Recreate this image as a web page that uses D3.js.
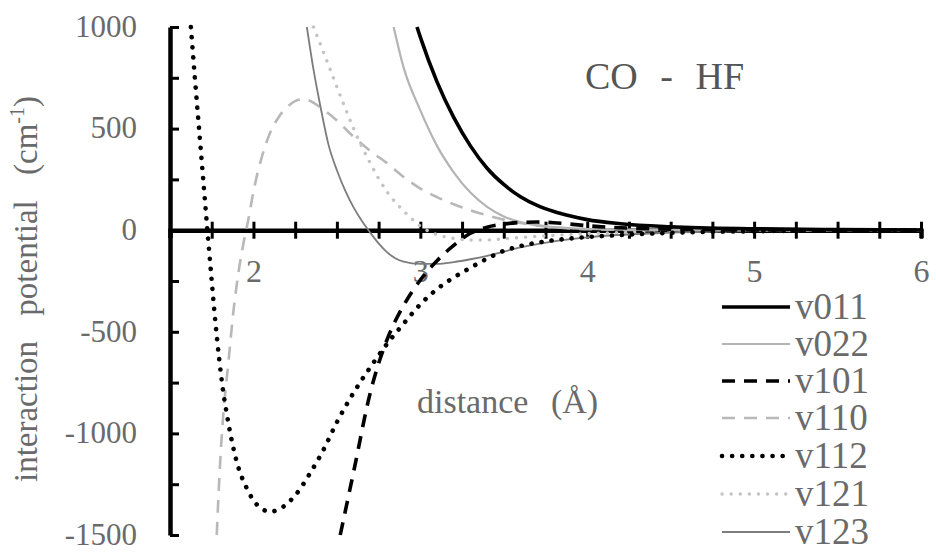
<!DOCTYPE html>
<html>
<head>
<meta charset="utf-8">
<script src="https://cdn.jsdelivr.net/npm/d3@7"></script>
<style>
  html, body { margin: 0; padding: 0; background: #fff; }
  svg { display: block; }
</style>
</head>
<body>
<svg id="chart" width="936" height="552"></svg>
<script>
// ---- data (distance in Å, potential in cm^-1) ----
const seriesNames = ["v011", "v022", "v101", "v110", "v112", "v121", "v123"];

const v011 = [[2.98,1000],[3.0,950],[3.1,730],[3.2,555],[3.3,415],[3.4,305],[3.5,225],[3.6,165],[3.7,122],[3.8,92],[3.9,70],[4.0,52],[4.2,32],[4.5,17],[5.0,7],[5.5,3],[6.0,1]];
const v022 = [[2.84,1000],[2.9,800],[3.0,590],[3.1,415],[3.2,285],[3.3,185],[3.4,115],[3.5,68],[3.6,40],[3.8,15],[4.0,6],[4.5,1],[6.0,0]];
const v101 = [[2.52,-1500],[2.6,-1190],[2.7,-800],[2.8,-540],[2.9,-370],[3.0,-245],[3.1,-150],[3.2,-75],[3.3,-15],[3.4,15],[3.5,30],[3.6,38],[3.7,40],[3.8,37],[3.9,30],[4.0,22],[4.2,12],[4.5,5],[5.0,1],[6.0,0]];
const v110 = [[1.78,-1500],[1.80,-1150],[1.82,-900],[1.85,-650],[1.88,-400],[1.91,-210],[1.94,-65],[1.97,55],[2.0,190],[2.05,360],[2.1,480],[2.15,555],[2.2,605],[2.25,635],[2.3,645],[2.35,632],[2.4,605],[2.5,540],[2.6,460],[2.7,390],[2.8,330],[2.9,262],[3.0,205],[3.1,163],[3.2,128],[3.3,98],[3.4,73],[3.5,52],[3.6,35],[3.8,15],[4.0,5],[4.5,0],[6.0,0]];
const v112 = [[1.625,1000],[1.65,740],[1.675,490],[1.70,240],[1.725,-10],[1.75,-250],[1.78,-520],[1.81,-740],[1.85,-950],[1.9,-1140],[1.96,-1270],[2.02,-1350],[2.1,-1385],[2.18,-1360],[2.26,-1295],[2.34,-1195],[2.42,-1080],[2.5,-945],[2.6,-800],[2.7,-675],[2.8,-560],[2.9,-460],[3.0,-365],[3.1,-290],[3.2,-233],[3.3,-185],[3.4,-140],[3.5,-102],[3.6,-78],[3.75,-55],[3.95,-37],[4.25,-22],[4.5,-13],[5.0,-5],[6.0,0]];
const v121 = [[2.36,1000],[2.42,875],[2.46,790],[2.5,705],[2.55,600],[2.6,500],[2.65,410],[2.7,330],[2.75,255],[2.8,190],[2.85,138],[2.9,95],[2.95,55],[3.0,20],[3.05,-5],[3.1,-22],[3.2,-40],[3.3,-48],[3.4,-48],[3.5,-42],[3.7,-30],[4.0,-17],[4.5,-6],[5.0,-2],[6.0,0]];
const v123 = [[2.32,1000],[2.36,790],[2.40,615],[2.45,420],[2.5,295],[2.55,195],[2.6,112],[2.65,45],[2.7,-12],[2.75,-65],[2.8,-108],[2.85,-138],[2.9,-155],[3.0,-166],[3.1,-166],[3.2,-157],[3.3,-143],[3.4,-126],[3.5,-105],[3.6,-85],[3.8,-55],[4.0,-35],[4.5,-12],[5.0,-4],[6.0,0]];

const xTicks = [1.75,2,2.25,2.5,2.75,3,3.25,3.5,3.75,4,4.25,4.5,4.75,5,5.25,5.5,5.75,6];
const xTickLabels = [2,3,4,5,6];
const yTicks = [-1500,-1250,-1000,-750,-500,-250,0,250,500,750,1000];
const yTickLabels = [-1500,-1000,-500,0,500,1000];

const titleText = "CO - HF";
const xTitle = "distance (Å)";
const yTitle = "interaction potential (cm";
const yTitleSup = "-1";

// ---- styles ----
const FONT = "'Liberation Serif', 'Times New Roman', Times, serif";
const styles = {
  v011: {color: "#000000", width: 3.6, dash: null, cap: "butt"},
  v022: {color: "#b4b4b4", width: 2.2, dash: null, cap: "butt"},
  v101: {color: "#000000", width: 3.6, dash: "13 9", cap: "butt"},
  v110: {color: "#b8b8b8", width: 2.6, dash: "13 9", cap: "butt"},
  v112: {color: "#000000", width: 4.6, dash: "0.1 10", cap: "round"},
  v121: {color: "#c4c4c4", width: 3.4, dash: "0.1 9", cap: "round"},
  v123: {color: "#7c7c7c", width: 1.8, dash: null, cap: "butt"}
};
const seriesData = {v011, v022, v101, v110, v112, v121, v123};

const svg = d3.select("#chart");
svg.append("rect").attr("width", 936).attr("height", 552).attr("fill", "#fff");

const x = d3.scaleLinear().domain([1.5, 6]).range([170, 921]);
const y = d3.scaleLinear().domain([-1500, 1000]).range([535, 27]);

const textColor = "#6a6a6a";

// ---- axes ----
const xAxis = d3.axisBottom(x).tickValues(xTicks).tickSizeOuter(0).tickSize(8)
  .tickFormat(d => xTickLabels.includes(d) ? String(d) : "");
const gx = svg.append("g").attr("transform", `translate(0,${y(0)})`).call(xAxis);
gx.attr("font-family", null).attr("font-size", null);
gx.select(".domain").attr("stroke", "#000").attr("stroke-width", 4.5);
gx.selectAll(".tick line").attr("y1", -8.5).attr("y2", 8.5).attr("stroke", "#000").attr("stroke-width", 3);
gx.selectAll(".tick text").attr("y", 42).attr("dy", "0.32em")
  .style("font-size", "32px").style("font-family", FONT).attr("fill", textColor);

const yAxis = d3.axisLeft(y).tickValues(yTicks).tickSizeOuter(0).tickSize(0)
  .tickFormat(d => yTickLabels.includes(d) ? String(d) : "");
const gy = svg.append("g").attr("transform", `translate(${x(1.5)},0)`).call(yAxis);
gy.attr("font-family", null).attr("font-size", null);
gy.select(".domain").attr("stroke", "#000").attr("stroke-width", 4.5);
gy.selectAll(".tick line").attr("x1", 0).attr("x2", 9).attr("stroke", "#000").attr("stroke-width", 3);
gy.selectAll(".tick text").attr("x", -33).attr("dy", "0.30em")
  .style("font-size", "31px").style("font-family", FONT).attr("fill", textColor);

// ---- lines ----
const line = d3.line().x(d => x(d[0])).y(d => y(d[1])).curve(d3.curveMonotoneX);
const drawOrder = ["v110", "v121", "v022", "v123", "v011", "v101", "v112"];
drawOrder.forEach(name => {
  const s = styles[name];
  svg.append("path").datum(seriesData[name])
    .attr("d", line)
    .attr("fill", "none")
    .attr("stroke", s.color)
    .attr("stroke-width", s.width)
    .attr("stroke-linecap", s.cap)
    .attr("stroke-dasharray", s.dash);
});

// ---- texts ----
svg.append("text").attr("x", 585).attr("y", 89)
  .style("font-family", FONT).style("font-size", "38px").style("word-spacing", "13px")
  .attr("fill", "#555").text(titleText);

svg.append("text").attr("x", 417).attr("y", 413)
  .style("font-family", FONT).style("font-size", "34px").style("word-spacing", "14px")
  .attr("fill", textColor).text(xTitle);

const yt = svg.append("text")
  .attr("transform", "translate(37,289) rotate(-90)")
  .attr("text-anchor", "middle")
  .style("font-family", FONT).style("font-size", "33px").style("word-spacing", "17px")
  .attr("fill", textColor);
yt.append("tspan").text(yTitle);
yt.append("tspan").style("font-size", "20px").attr("dy", -13).text(yTitleSup);
yt.append("tspan").attr("dy", 13).text(")");

// ---- legend ----
const legendY = [307, 344, 381, 418, 456, 494, 532];
seriesNames.forEach((name, i) => {
  const s = styles[name];
  const g = svg.append("g").attr("transform", `translate(0,${legendY[i]})`);
  g.append("line").attr("x1", 722).attr("x2", 790).attr("y1", 0).attr("y2", 0)
    .attr("stroke", s.color).attr("stroke-width", s.width)
    .attr("stroke-linecap", s.cap).attr("stroke-dasharray", s.dash);
  g.append("text").attr("x", 795).attr("y", 0).attr("dy", "0.33em")
    .style("font-family", FONT).style("font-size", "37px")
    .attr("fill", textColor).text(name);
});
</script>
</body>
</html>
